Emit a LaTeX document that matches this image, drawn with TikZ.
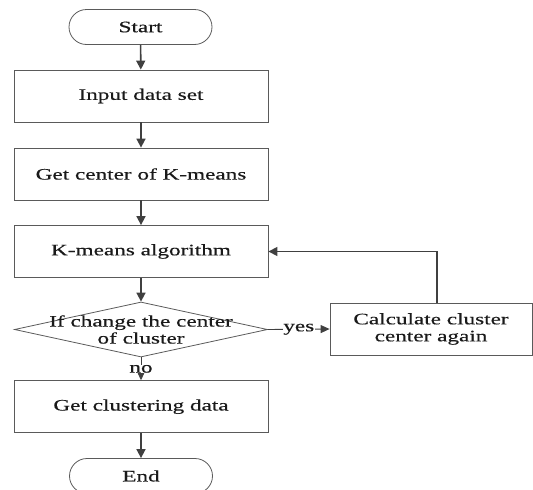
\documentclass[tikz,border=0pt]{standalone}
\usepackage{fontspec}
\setmainfont{Liberation Serif}[FakeStretch=1.45,FakeBold=0.4]
\usetikzlibrary{shapes.geometric,arrows.meta}
\definecolor{ln}{HTML}{404040}
\definecolor{bd}{HTML}{5A5A5A}
\definecolor{tx}{HTML}{1A1A1A}
\begin{document}
\begin{tikzpicture}[x=1pt,y=-1pt,
  font=\fontsize{16}{17}\selectfont, text=tx,
  box/.style={draw=bd, line width=0.8pt, minimum width=254pt, minimum height=52pt, inner sep=0pt, align=center},
  term/.style={draw=bd, line width=0.8pt, rounded corners=17.5pt, minimum width=143pt, minimum height=35pt, inner sep=0pt},
  arr/.style={draw=ln, line width=1.6pt, -{Triangle[length=9pt,width=9pt]}},
  thinarr/.style={draw=ln, line width=0.9pt, -{Triangle[length=9pt,width=8pt]}},
  lbl/.style={fill=white, inner sep=0.3pt}]
\clip (0,0) rectangle (533,490);
\useasboundingbox (0,0) rectangle (533,490);
\node[term] (start) at (140.5,27) {Start};
\node[box] (input) at (141,96) {Input data set};
\node[box] (getc) at (141,174) {Get center of K-means};
\node[box] (km) at (141,251.5) {K-means algorithm};
\node[diamond, draw=bd, line width=0.8pt, minimum width=253pt, minimum height=55pt, inner sep=0pt] (dec) at (141,329.5) {};
\node[align=center, inner sep=0pt] (dect) at (dec.center) {If change the center\\of cluster};
\node[box, minimum width=202pt] (calc) at (431,329) {Calculate cluster\\center again};
\node[box] (getcl) at (141,406.7) {Get clustering data};
\node[term] (end) at (141,476) {End};
\draw[arr] (start) -- (input);
\draw[arr] (input) -- (getc);
\draw[arr] (getc) -- (km);
\draw[arr] (km) -- (dec);
\draw[thinarr] (dec.east) -- node[lbl] {yes} (calc.west);
\draw[thinarr] (dec.south) -- node[lbl] {no} (getcl.north);
\draw[arr, line width=1.3pt] ([xshift=6pt]calc.north) |- (km.east);
\draw[arr] (getcl) -- (end);
\end{tikzpicture}
\end{document}
